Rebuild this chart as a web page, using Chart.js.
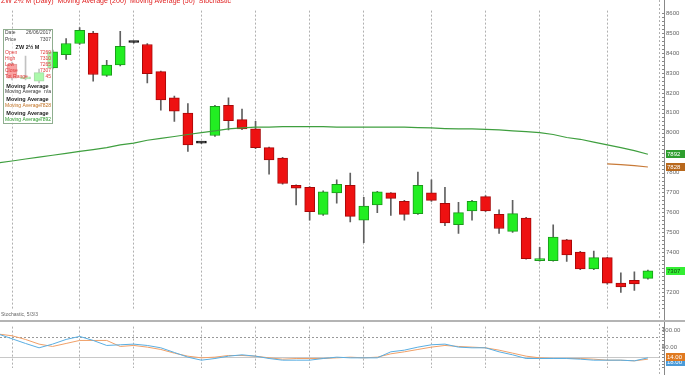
<!DOCTYPE html>
<html>
<head>
<meta charset="utf-8">
<script src="https://cdn.jsdelivr.net/npm/chart.js@4.4.1/dist/chart.umd.min.js"></script>
<style>
html, body { margin: 0; padding: 0; background: #fff; overflow: hidden; }
#wrap { position: relative; width: 685px; height: 375px; }
canvas { position: absolute; left: 0; }
#priceChart { top: 0; }
#stochChart { top: 320px; }
</style>
</head>
<body>
<div id="wrap">
  <canvas id="priceChart" width="685" height="320"></canvas>
  <canvas id="stochChart" width="685" height="55"></canvas>
</div>
<script>
// daily candles, index 0..47
const opens = [8344, 8270, 8259, 8325, 8392, 8448, 8500, 8288, 8340, 8453, 8443, 8307, 8175, 8099, 7948, 7986,
  8137, 8066, 8019, 7925, 7873, 7736, 7726, 7590, 7698, 7736, 7561, 7637, 7698, 7656, 7594, 7698,
  7646, 7538, 7608, 7679, 7590, 7505, 7571, 7358, 7358, 7462, 7401, 7316, 7373, 7245, 7259, 7269];
const highs = [8355, 8385, 8320, 8415, 8472, 8528, 8509, 8363, 8509, 8456, 8448, 8310, 8184, 8146, 7951, 8137,
  8175, 8118, 8057, 7928, 7876, 7738, 7730, 7708, 7764, 7797, 7675, 7706, 7700, 7660, 7802, 7764,
  7726, 7651, 7660, 7684, 7613, 7660, 7575, 7425, 7538, 7465, 7405, 7406, 7375, 7297, 7302, 7310];
const lows = [8265, 8265, 8250, 8320, 8368, 8443, 8259, 8283, 8335, 8450, 8250, 8113, 8057, 7906, 7945, 7981,
  8014, 8015, 7920, 7792, 7742, 7637, 7561, 7585, 7646, 7552, 7448, 7599, 7585, 7561, 7590, 7655,
  7533, 7495, 7561, 7604, 7495, 7500, 7365, 7355, 7355, 7354, 7312, 7312, 7240, 7198, 7208, 7265];
const closes = [8274, 8275, 8302, 8406, 8448, 8514, 8292, 8340, 8434, 8453, 8297, 8165, 8108, 7939, 7948, 8132,
  8061, 8019, 7925, 7863, 7745, 7722, 7604, 7703, 7741, 7580, 7632, 7703, 7670, 7590, 7736, 7660,
  7547, 7599, 7656, 7608, 7519, 7594, 7368, 7362, 7476, 7387, 7316, 7373, 7245, 7226, 7241, 7307];

// indicators start one bar before the first visible candle (index -1)
const maSlow = [7849, 7858, 7868, 7877, 7887, 7896, 7906, 7915, 7925, 7939, 7948, 7962, 7972, 7981, 7991, 8000,
  8009, 8019, 8024, 8028, 8028, 8031, 8031, 8031, 8031, 8028, 8028, 8028, 8028, 8028, 8028, 8026,
  8024, 8021, 8019, 8019, 8017, 8014, 8009, 8005, 8000, 7991, 7976, 7967, 7953, 7939, 7925, 7910, 7892];
const maFast = [null, null, null, null, null, null, null, null, null, null, null, null, null, null, null, null,
  null, null, null, null, null, null, null, null, null, null, null, null, null, null, null, null,
  null, null, null, null, null, null, null, null, null, null, null, null, null, 7844, 7840, 7835, 7828];
const stochK = [89, 75, 61, 48, 59, 73, 82, 70, 55, 57, 59, 55, 48, 34, 20, 11, 16, 23, 27, 23, 16, 11, 11, 11, 16,
  20, 18, 18, 18, 36, 41, 50, 57, 59, 50, 48, 48, 36, 27, 16, 16, 16, 16, 14, 11, 11, 11, 9, 18];
const stochD = [89, 84, 73, 59, 52, 61, 70, 70, 70, 52, 55, 50, 43, 32, 23, 18, 20, 25, 25, 23, 18, 14, 16, 16, 16,
  18, 20, 18, 20, 30, 36, 43, 50, 55, 52, 50, 48, 41, 32, 23, 18, 16, 16, 16, 14, 11, 11, 9, 14];

// candle index of each week start (vertical grid), price axis ticks, oscillator ticks
const weekStarts = [0, 5, 9, 14, 18, 22, 26, 31, 35, 39, 44];
const priceTicks = [7200, 7300, 7400, 7500, 7600, 7700, 7800, 7900, 8000, 8100, 8200, 8300, 8400, 8500, 8600];
const stochTicks = [50, 100];

const FONT = 'Liberation Sans';
const idx = opens.map((_, i) => i);
const indIdx = maSlow.map((_, i) => i - 1);

function candleColor(i, up, down, flat) {
  if (closes[i] > opens[i]) return up;
  if (closes[i] < opens[i]) return down;
  return flat;
}

function xAxis() {
  return {
    type: 'linear',
    min: -0.887,
    max: 47.82,
    offset: false,
    afterBuildTicks: s => { s.ticks = weekStarts.map(v => ({value: v})); },
    grid: {color: '#b0b0b0', drawTicks: false, offset: false},
    border: {display: false, dash: [2, 2]},
    ticks: {display: false}
  };
}

function tag(ctx, y, text, bg, fg) {
  ctx.fillStyle = bg;
  ctx.fillRect(666, Math.round(y) - 4, 19, 8);
  ctx.fillStyle = fg;
  ctx.font = '6px "' + FONT + '"';
  ctx.textAlign = 'left';
  ctx.textBaseline = 'middle';
  ctx.fillText(text, 667, Math.round(y));
}

function axisLine(chart, step) {
  const ctx = chart.ctx;
  const area = chart.chartArea;
  const y = chart.scales.y;
  ctx.save();
  ctx.strokeStyle = '#b0b0b0';
  ctx.setLineDash([2, 2]);
  ctx.beginPath();
  ctx.moveTo(area.right + 0.5, 0);
  ctx.lineTo(area.right + 0.5, chart.height);
  ctx.stroke();
  ctx.setLineDash([]);
  ctx.strokeStyle = '#888';
  ctx.beginPath();
  ctx.moveTo(664.5, 0);
  ctx.lineTo(664.5, chart.height);
  for (let v = Math.ceil(y.min / step) * step; v <= y.max; v += step) {
    const py = Math.round(y.getPixelForValue(v)) + 0.5;
    ctx.moveTo(662, py);
    ctx.lineTo(664.5, py);
  }
  ctx.stroke();
  ctx.restore();
}

const priceOverlay = {
  id: 'priceOverlay',
  afterDraw(chart) {
    const ctx = chart.ctx;
    const y = chart.scales.y;
    const last = opens.length - 1;
    axisLine(chart, 20);

    ctx.save();
    // title strip, mostly cut by the top edge
    ctx.fillStyle = '#e02020';
    ctx.font = '7px "' + FONT + '"';
    ctx.textBaseline = 'alphabetic';
    ctx.fillText('ZW 2½ M (Daily)  Moving Average (200)  Moving Average (50)  Stochastic', 1, 3);

    // data window
    const bx = 3, by = 29, bw = 49, bh = 94;
    ctx.fillStyle = 'rgba(255,255,255,0.62)';
    ctx.fillRect(bx, by, bw, bh);
    ctx.strokeStyle = '#8fae8f';
    ctx.lineWidth = 1;
    ctx.strokeRect(bx + 0.5, by + 0.5, bw, bh);

    ctx.textBaseline = 'middle';
    const row = (yy, left, right, color) => {
      ctx.font = '5px "' + FONT + '"';
      ctx.fillStyle = color;
      ctx.textAlign = 'left';
      ctx.fillText(left, bx + 2, yy);
      ctx.textAlign = 'right';
      ctx.fillText(right, bx + bw - 1, yy);
    };
    const head = (yy, text) => {
      ctx.font = 'bold 5.5px "' + FONT + '"';
      ctx.fillStyle = '#222';
      ctx.textAlign = 'center';
      ctx.fillText(text, bx + bw / 2, yy);
    };
    row(33, 'Date', '26/06/2017', '#444');
    row(40, 'Price', String(closes[last]), '#444');
    head(47, 'ZW 2½ M');
    row(53, 'Open', String(opens[last]), '#e03a3a');
    row(59, 'High', String(highs[last]), '#e03a3a');
    row(65, 'Low', String(lows[last]), '#e03a3a');
    row(71, 'Close', String(closes[last]), '#e03a3a');
    row(77, 'Tot Range', String(highs[last] - lows[last]), '#e03a3a');
    head(86, 'Moving Average');
    row(92, 'Moving Average', 'n/a', '#333');
    head(99, 'Moving Average');
    row(106, 'Moving Average', String(maFast[maFast.length - 1]), '#c07020');
    head(113, 'Moving Average');
    row(120, 'Moving Average', String(maSlow[maSlow.length - 1]), '#2a9a2a');

    // oscillator caption
    ctx.font = '5px "' + FONT + '"';
    ctx.fillStyle = '#666';
    ctx.textAlign = 'left';
    ctx.fillText('Stochastic, 5/3/3', 1, 315);

    // value tags on the price axis
    const slow = maSlow[maSlow.length - 1];
    const fast = maFast[maFast.length - 1];
    tag(ctx, y.getPixelForValue(slow), String(slow), '#2e9e2e', '#fff');
    tag(ctx, y.getPixelForValue(fast), String(fast), '#b8681c', '#fff');
    tag(ctx, y.getPixelForValue(closes[last]), String(closes[last]), '#33ee33', '#114411');
    ctx.restore();
  }
};

const stochOverlay = {
  id: 'stochOverlay',
  beforeDatasetsDraw(chart) {
    const ctx = chart.ctx;
    const y = chart.scales.y;
    const area = chart.chartArea;
    ctx.save();
    ctx.strokeStyle = '#c8c8c8';
    ctx.lineWidth = 1;
    let py = Math.round(y.getPixelForValue(20)) + 0.5;
    ctx.beginPath();
    ctx.moveTo(0, py);
    ctx.lineTo(area.right, py);
    ctx.stroke();
    ctx.strokeStyle = '#999';
    ctx.setLineDash([2, 2]);
    py = Math.round(y.getPixelForValue(80)) + 0.5;
    ctx.beginPath();
    ctx.moveTo(0, py);
    ctx.lineTo(area.right, py);
    ctx.stroke();
    ctx.restore();
  },
  afterDraw(chart) {
    const ctx = chart.ctx;
    const y = chart.scales.y;
    axisLine(chart, 10);
    ctx.save();
    ctx.fillStyle = '#b4b4b4';
    ctx.fillRect(0, 0, chart.width, 2);
    const k = stochK[stochK.length - 1];
    const d = stochD[stochD.length - 1];
    tag(ctx, y.getPixelForValue(k) + 4, k.toFixed(2), '#4a9ad8', '#fff');
    tag(ctx, y.getPixelForValue(d) - 2, d.toFixed(2), '#e07a20', '#fff');
    ctx.restore();
  }
};

new Chart(document.getElementById('priceChart').getContext('2d'), {
  data: {
    datasets: [
      {
        type: 'line',
        data: indIdx.map((x, i) => ({x: x, y: maFast[i]})),
        borderColor: '#c87a38',
        borderWidth: 1.2,
        pointRadius: 0,
        spanGaps: false
      },
      {
        type: 'line',
        data: indIdx.map((x, i) => ({x: x, y: maSlow[i]})),
        borderColor: '#3f9f3f',
        borderWidth: 1.2,
        pointRadius: 0
      },
      {
        type: 'bar',
        data: idx.map(i => ({x: i, y: [opens[i], closes[i]]})),
        backgroundColor: idx.map(i => candleColor(i, '#22ee22', '#ee1111', '#111')),
        borderColor: idx.map(i => candleColor(i, '#1b9a1b', '#a80808', '#111')),
        borderWidth: 1,
        borderSkipped: false,
        barThickness: 10,
        minBarLength: 2,
        grouped: false
      },
      {
        type: 'bar',
        data: idx.map(i => ({x: i, y: [lows[i], highs[i]]})),
        backgroundColor: '#606060',
        borderWidth: 0,
        barThickness: 1,
        grouped: false
      }
    ]
  },
  options: {
    responsive: false,
    animation: false,
    layout: {padding: 0},
    plugins: {legend: {display: false}, tooltip: {enabled: false}},
    scales: {
      x: xAxis(),
      y: {
        position: 'right',
        min: 7113,
        max: 8613,
        afterBuildTicks: s => { s.ticks = priceTicks.map(v => ({value: v})); },
        afterFit: s => { s.width = 26; },
        grid: {display: false, drawTicks: false},
        border: {display: false},
        ticks: {color: '#666', font: {size: 6, family: FONT}, padding: 7, callback: v => String(v)}
      }
    }
  },
  plugins: [priceOverlay]
});

new Chart(document.getElementById('stochChart').getContext('2d'), {
  type: 'line',
  data: {
    datasets: [
      {
        data: indIdx.map((x, i) => ({x: x, y: stochK[i]})),
        borderColor: '#5aaee2',
        borderWidth: 1,
        pointRadius: 0
      },
      {
        data: indIdx.map((x, i) => ({x: x, y: stochD[i]})),
        borderColor: '#f0a068',
        borderWidth: 1,
        pointRadius: 0
      }
    ]
  },
  options: {
    responsive: false,
    animation: false,
    layout: {padding: 0},
    plugins: {legend: {display: false}, tooltip: {enabled: false}},
    scales: {
      x: xAxis(),
      y: {
        position: 'right',
        min: -13.6,
        max: 111.4,
        afterBuildTicks: s => { s.ticks = stochTicks.map(v => ({value: v})); },
        afterFit: s => { s.width = 26; },
        grid: {display: false, drawTicks: false},
        border: {display: false},
        ticks: {
          color: '#666',
          font: {size: 6, family: FONT},
          padding: 3,
          callback: v => Number(v).toFixed(2)
        }
      }
    }
  },
  plugins: [stochOverlay]
});
</script>
</body>
</html>
